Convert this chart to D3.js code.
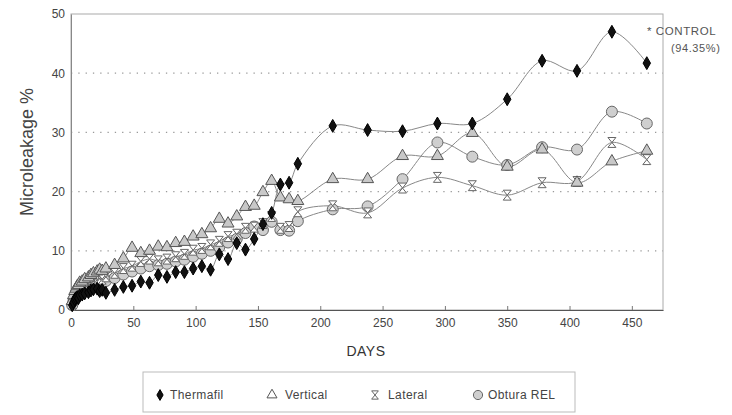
<!DOCTYPE html>
<html>
<head>
<meta charset="utf-8">
<script src="https://cdn.jsdelivr.net/npm/d3@7"></script>
<style>
  body { margin: 0; background: #fff; }
  svg, svg text { font-family: "Liberation Sans", Arial, sans-serif; }
</style>
</head>
<body>
<div id="chart"></div>
<script>
// giorni di misura
const days = [1, 2, 3, 4, 5, 6, 7, 9, 11, 14, 16, 18, 21, 23, 25, 28,
  35, 42, 49, 56, 63, 70, 77, 84, 91, 98, 105, 112, 119, 126, 133, 140, 147, 154, 161, 168, 175, 182,
  210, 238, 266, 294, 322, 350, 378, 406, 434, 462];

const thermafil = [0.8, 1.3, 1.8, 2.0, 2.2, 2.0, 2.5, 2.6, 2.8, 3.0, 3.3, 3.5, 3.6, 3.2, 3.4, 2.9,
  3.4, 3.9, 4.1, 4.8, 4.6, 5.9, 5.6, 6.4, 6.4, 7.0, 7.4, 6.8, 9.4, 8.6, 11.3, 10.2, 12.0, 14.5, 16.4, 21.2, 21.5, 24.7,
  31.1, 30.4, 30.2, 31.5, 31.5, 35.6, 42.1, 40.4, 47.0, 41.7];

const vertical = [1.5, 2.5, 3.2, 3.6, 4.0, 4.2, 4.6, 4.8, 5.2, 5.5, 5.9, 6.2, 6.5, 6.8, 6.6, 7.0,
  7.6, 8.7, 10.5, 9.6, 10.0, 10.7, 10.6, 11.3, 11.5, 12.4, 12.8, 13.8, 15.4, 14.6, 15.8, 17.4, 17.6, 19.9, 21.8, 19.0, 18.7, 18.4,
  22.1, 22.1, 26.0, 26.0, 29.9, 24.2, 27.1, 21.5, 25.1, 26.9];

const lateral = [1.0, 1.8, 2.4, 2.8, 3.0, 3.3, 3.6, 3.8, 4.1, 4.4, 4.6, 4.9, 5.1, 5.3, 5.2, 5.6,
  6.2, 7.0, 7.4, 8.2, 8.6, 8.3, 8.6, 9.0, 9.4, 10.1, 10.4, 11.0, 11.6, 12.4, 12.8, 13.8, 14.0, 14.6, 15.8, 13.8, 14.1, 16.6,
  17.6, 16.4, 20.6, 22.4, 21.0, 19.4, 21.5, 21.7, 28.3, 25.4];

const obtura = [0.8, 1.5, 2.0, 2.4, 2.6, 2.9, 3.1, 3.3, 3.6, 3.9, 4.1, 4.3, 4.5, 4.7, 4.6, 4.9,
  5.4, 6.0, 6.5, 7.0, 7.4, 7.6, 7.8, 8.2, 8.5, 9.0, 9.5, 10.0, 10.6, 11.4, 12.0, 13.0, 14.1, 13.5, 14.9, 13.5, 13.4, 15.0,
  17.0, 17.5, 22.1, 28.3, 25.9, 24.5, 27.5, 27.1, 33.5, 31.5];

const seriesNames = ["Thermafil", "Vertical", "Lateral", "Obtura REL"];
const xTicks = [0, 50, 100, 150, 200, 250, 300, 350, 400, 450];
const yTicks = [0, 10, 20, 30, 40, 50];

const width = 732, height = 415;
const margin = { top: 14, right: 69, bottom: 105, left: 71 };
const innerWidth = width - margin.left - margin.right;
const innerHeight = height - margin.top - margin.bottom;
const font = '"Liberation Sans", Arial, sans-serif';

const svg = d3.select("#chart").append("svg").attr("width", width).attr("height", height);
const g = svg.append("g").attr("transform", `translate(${margin.left},${margin.top})`);

const xScale = d3.scaleLinear().domain([0, 475]).range([0, innerWidth]);
const yScale = d3.scaleLinear().domain([0, 50]).range([innerHeight, 0]);

// griglia punteggiata
g.selectAll(".grid").data(yTicks.filter(t => t > 0 && t < 50)).enter().append("line")
  .attr("x1", 0).attr("x2", innerWidth)
  .attr("y1", d => yScale(d)).attr("y2", d => yScale(d))
  .attr("stroke", "#999").attr("stroke-width", 1.3).attr("stroke-dasharray", "1.3,6");

// cornice
g.append("rect").attr("width", innerWidth).attr("height", innerHeight)
  .attr("fill", "none").attr("stroke", "#aaa").attr("stroke-width", 1);

// Assi
const xAxis = g.append("g").attr("transform", `translate(0,${innerHeight})`)
  .call(d3.axisBottom(xScale).tickValues(xTicks).tickSizeInner(-4).tickSizeOuter(0).tickPadding(8));
xAxis.attr("font-family", font).attr("font-size", 12);
xAxis.select(".domain").attr("stroke", "#555");
xAxis.selectAll(".tick line").attr("stroke", "#777");
xAxis.selectAll("text").attr("fill", "#444");

const yAxis = g.append("g")
  .call(d3.axisLeft(yScale).tickValues(yTicks).tickSize(0).tickPadding(6));
yAxis.attr("font-family", font).attr("font-size", 12);
yAxis.select(".domain").attr("stroke", "#888");
yAxis.selectAll("text").attr("fill", "#444");

svg.append("text").attr("x", 366).attr("y", 356).attr("text-anchor", "middle")
  .attr("fill", "#333").style("font-size", "14px").style("letter-spacing", "0.5px").text("DAYS");

svg.append("text").attr("transform", "translate(33,152) rotate(-90)").attr("text-anchor", "middle")
  .attr("fill", "#444").style("font-size", "18px").text("Microleakage %");

// simboli
const hourglass = {
  draw(ctx, size) {
    const w = Math.sqrt(size) * 0.5, h = Math.sqrt(size) * 0.62;
    ctx.moveTo(-w, -h); ctx.lineTo(w, -h); ctx.lineTo(0, 0); ctx.closePath();
    ctx.moveTo(-w, h); ctx.lineTo(w, h); ctx.lineTo(0, 0); ctx.closePath();
  }
};
const styles = {
  "Thermafil": { values: thermafil, type: d3.symbolDiamond, size: 48, fill: "#111", stroke: "#000" },
  "Vertical": { values: vertical, type: d3.symbolTriangle, size: 62, fill: "#c8c8c8", stroke: "#555" },
  "Lateral": { values: lateral, type: hourglass, size: 64, fill: "#fff", stroke: "#666" },
  "Obtura REL": { values: obtura, type: d3.symbolCircle, size: 95, fill: "#cfcfcf", stroke: "#666" }
};

const line = d3.line().x(d => xScale(d[0])).y(d => yScale(d[1])).curve(d3.curveCatmullRom.alpha(0.5));

seriesNames.forEach(name => {
  const pts = days.map((d, i) => [d, styles[name].values[i]]);
  g.append("path").datum(pts).attr("d", line)
    .attr("fill", "none").attr("stroke", "#888").attr("stroke-width", 1);
});

["Obtura REL", "Lateral", "Vertical", "Thermafil"].forEach(name => {
  const s = styles[name];
  const sym = d3.symbol().type(s.type).size(s.size);
  g.selectAll(null).data(days.map((d, i) => [d, s.values[i]])).enter().append("path")
    .attr("d", sym)
    .attr("transform", d => `translate(${xScale(d[0])},${yScale(d[1])})`)
    .attr("fill", s.fill).attr("stroke", s.stroke).attr("stroke-width", 1);
});

// nota controllo
svg.append("text").attr("x", 647).attr("y", 35).attr("fill", "#555").style("font-size", "11.5px")
  .style("letter-spacing", "0.6px").text("* CONTROL");
svg.append("text").attr("x", 671).attr("y", 52).attr("fill", "#555").style("font-size", "11px")
  .style("letter-spacing", "0.6px").text("(94.35%)");

// Legenda
const legend = svg.append("g").attr("transform", "translate(143,372)");
legend.append("rect").attr("width", 432).attr("height", 40)
  .attr("fill", "#fff").attr("stroke", "#bbb").attr("stroke-width", 1);
const legendX = [17, 129, 232, 335];
const legendTextDx = [10, 13, 13, 10];
seriesNames.forEach((name, i) => {
  const s = styles[name];
  const row = legend.append("g").attr("transform", `translate(${legendX[i]},23)`);
  row.append("path").attr("d", d3.symbol().type(s.type).size(s.size * 0.7))
    .attr("fill", name === "Vertical" ? "#fff" : s.fill).attr("stroke", s.stroke);
  row.append("text").attr("x", legendTextDx[i]).attr("y", 4).attr("fill", "#444")
    .style("font-size", "12px").style("letter-spacing", "0.4px").text(name);
});
</script>
</body>
</html>
